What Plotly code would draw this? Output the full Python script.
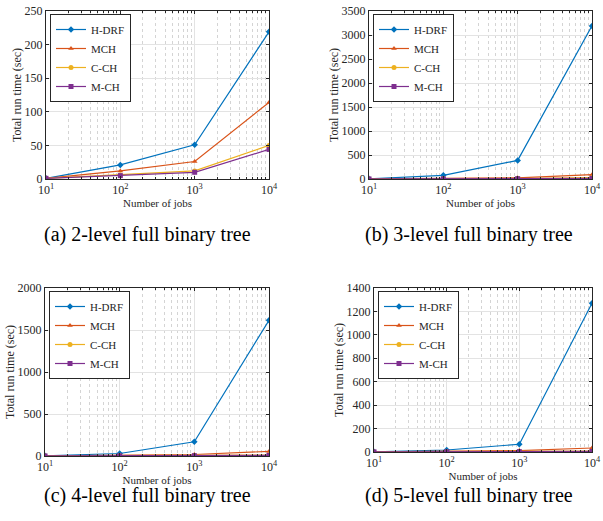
import plotly.graph_objects as go

W, H = 603, 521

jobs = [10, 100, 1000, 10000]
series_names = ["H-DRF", "MCH", "C-CH", "M-CH"]
colors = ["#0072BD", "#D95319", "#EDB120", "#7E2F8E"]
symbols = ["diamond", "triangle-up", "circle", "square"]

# panel (a) 2-level
a_hdrf = [1, 21, 51, 219]
a_mch = [1, 12, 26, 114]
a_cch = [1, 6, 12, 50]
a_mch2 = [1, 5, 10, 44]
# panel (b) 3-level
b_hdrf = [5, 76, 388, 3190]
b_mch = [1, 10, 25, 90]
b_cch = [1, 4, 10, 30]
b_mch2 = [1, 3, 7, 15]
# panel (c) 4-level
c_hdrf = [2, 30, 170, 1615]
c_mch = [1, 8, 18, 55]
c_cch = [1, 3, 6, 10]
c_mch2 = [1, 2, 4, 7]
# panel (d) 5-level
d_hdrf = [2, 17, 66, 1270]
d_mch = [1, 6, 12, 34]
d_cch = [1, 2, 4, 7]
d_mch2 = [1, 2, 3, 5]

y_max = [250, 3500, 2000, 1400]
y_dtick = [50, 500, 500, 200]
x_tickvals = [10, 100, 1000, 10000]
x_ticktext = ["10<sup>1</sup>", "10<sup>2</sup>", "10<sup>3</sup>", "10<sup>4</sup>"]
captions = ["(a) 2-level full binary tree", "(b) 3-level full binary tree",
            "(c) 4-level full binary tree", "(d) 5-level full binary tree"]
x_title = "Number of jobs"
y_title = "Total run time (sec)"

panels = [
    [a_hdrf, a_mch, a_cch, a_mch2],
    [b_hdrf, b_mch, b_cch, b_mch2],
    [c_hdrf, c_mch, c_cch, c_mch2],
    [d_hdrf, d_mch, d_cch, d_mch2],
]

# plot areas in pixels: left, right, top, bottom
boxes = [(46, 269, 11, 179), (369, 592, 11, 179), (45, 269, 288, 456), (374, 592, 288, 452)]
caption_pos = [(147, 234), (469, 234), (147, 495), (469, 495)]

FONT = "Liberation Serif"
minor_vals = [m * 10 ** e for e in range(1, 4) for m in range(2, 10)]

fig = go.Figure()
layout = dict(width=W, height=H, margin=dict(l=0, r=0, t=0, b=0, autoexpand=False),
              paper_bgcolor="white", plot_bgcolor="white",
              font=dict(family=FONT, size=12, color="#262626"),
              showlegend=True)

for i, data in enumerate(panels):
    k = "" if i == 0 else str(i + 1)
    L, R, T, B = boxes[i]
    leg = "legend" + k
    for j, vals in enumerate(data):
        fig.add_trace(go.Scatter(
            x=jobs, y=vals, name=series_names[j], mode="lines+markers",
            line=dict(color=colors[j], width=1.2),
            marker=dict(symbol=symbols[j], size=5, color=colors[j]),
            xaxis="x" + k, yaxis="y" + k, legend=leg))
    layout["xaxis" + k] = dict(
        domain=[L / W, R / W], anchor="y" + k, type="log", range=[1, 4],
        automargin=False,
        tickvals=x_tickvals, ticktext=x_ticktext, ticks="inside", ticklen=3,
        tickcolor="#262626", showline=True, linecolor="#262626", linewidth=1,
        mirror="ticks", showgrid=True, gridcolor="#e3e3e3", gridwidth=1,
        zeroline=False,
        minor=dict(tickvals=minor_vals, ticks="inside", ticklen=2, tickcolor="#262626",
                   showgrid=True, gridcolor="#d4d4d4", griddash="dot", gridwidth=1),
        tickfont=dict(family=FONT, size=12, color="#262626"),
        title=dict(text=x_title, font=dict(family=FONT, size=11, color="#262626"), standoff=2),
    )
    layout["yaxis" + k] = dict(
        domain=[1 - B / H, 1 - T / H], anchor="x" + k, range=[0, y_max[i]],
        automargin=False,
        dtick=y_dtick[i], ticks="inside", ticklen=3, tickcolor="#262626",
        showline=True, linecolor="#262626", linewidth=1, mirror="ticks",
        showgrid=True, gridcolor="#e3e3e3", zeroline=False,
        tickfont=dict(family=FONT, size=12, color="#262626"),
        title=dict(text=y_title, font=dict(family=FONT, size=12, color="#262626"), standoff=0),
    )
    layout[leg] = dict(
        x=(L + 4) / W, y=1 - (T + 3) / H, xanchor="left", yanchor="top",
        xref="paper", yref="paper", bgcolor="white", bordercolor="#262626", borderwidth=1,
        font=dict(family=FONT, size=11, color="#262626"), tracegroupgap=0,
        itemwidth=30,
    )

annotations = []
for i, cap in enumerate(captions):
    cx, cy = caption_pos[i]
    annotations.append(dict(text=cap, x=cx / W, y=1 - cy / H, xref="paper", yref="paper",
                            xanchor="center", yanchor="middle", showarrow=False,
                            font=dict(family=FONT, size=20, color="black")))
layout["annotations"] = annotations

fig.update_layout(**layout)
fig.write_html("out.html", config={"displayModeBar": False},
               post_script="document.body.style.margin='0px';document.body.style.overflow='hidden';")
